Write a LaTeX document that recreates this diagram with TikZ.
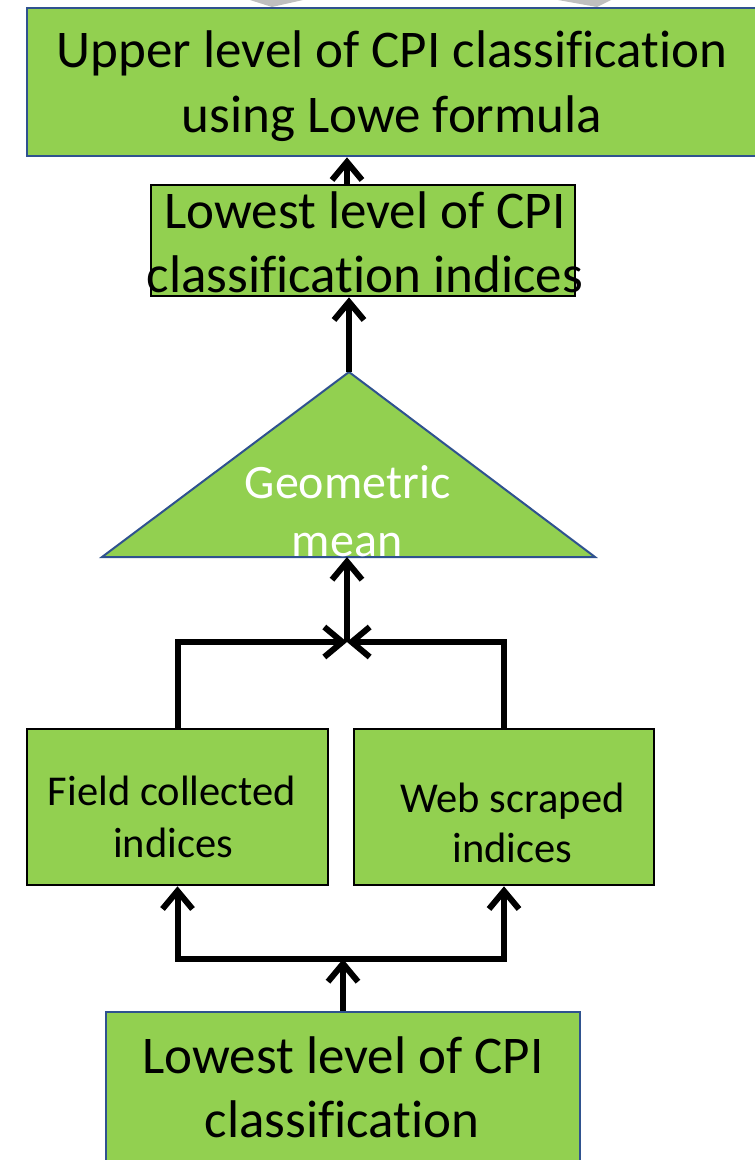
\documentclass[tikz,border=0pt]{standalone}
\usepackage{fontspec}
\setmainfont{Carlito}[Ligatures=CommonOff]
\usetikzlibrary{arrows.meta}
\definecolor{leaf}{RGB}{146,208,80}
\definecolor{edgeblue}{RGB}{47,82,143}
\definecolor{tipgray}{RGB}{191,191,191}
\tikzset{
  bluebox/.style={draw=edgeblue, line width=2.6pt, fill=leaf, inner sep=0pt},
  blackbox/.style={draw=black, line width=2.6pt, fill=leaf, inner sep=0pt},
  line/.style={anchor=base, inner sep=0pt},
  barb/.tip={Straight Barb[length=18pt,width=30pt,line width=6pt]},
  conn/.style={line width=6pt, -barb},
  twoway/.style={line width=6pt, barb-barb},
}
\begin{document}
\begin{tikzpicture}[x=1pt, y=-1pt]
\useasboundingbox (0,0) rectangle (755,1160);

% tips of the arrows from the level above
\fill[tipgray] (250,0) -- (303,0) -- (272,7) -- cycle;
\fill[tipgray] (558,0) -- (611,0) -- (597,7) -- cycle;

% boxes
\node[bluebox, minimum width=743pt, minimum height=148pt] (b1) at (398.5,82) {};
\node[blackbox, minimum width=424pt, minimum height=111pt] (b2) at (363,240.5) {};
\node[blackbox, minimum width=301pt, minimum height=156pt] (b3) at (177.5,807) {};
\node[blackbox, minimum width=300pt, minimum height=156pt] (b4) at (504,807) {};
\node[bluebox, minimum width=474pt, minimum height=170pt] (b5) at (343,1097) {};

% geometric mean triangle
\coordinate (gmtop) at (349,372);
\coordinate (gmbase) at (347,557);
\draw[draw=edgeblue, line width=2pt, fill=leaf, line join=miter]
  (gmtop) -- (595,557) -- (102,557) -- cycle;

% texts
\node[line, font=\fontsize{53}{60}\selectfont] (t1a) at (392,67) {Upper level of CPI classification};
\node[line, font=\fontsize{53}{60}\selectfont] (t1b) at (392,132) {using Lowe formula};
\node[line, font=\fontsize{53}{60}\selectfont] (t2a) at (365,228) {Lowest level of CPI};
\node[line, font=\fontsize{53}{60}\selectfont] (t2b) at (365,292) {classification indices};
\node[line, font=\fontsize{48}{56}\selectfont, text=white] (tga) at (347.5,498) {Geometric};
\node[line, font=\fontsize{48}{56}\selectfont, text=white] (tgb) at (347,556) {mean};
\node[line, font=\fontsize{42.5}{50}\selectfont] (t3a) at (172,805) {Field collected};
\node[line, font=\fontsize{42.5}{50}\selectfont] (t3b) at (173,857) {indices};
\node[line, font=\fontsize{42.5}{50}\selectfont] (t4a) at (512.5,812) {Web scraped};
\node[line, font=\fontsize{42.5}{50}\selectfont] (t4b) at (512.5,862) {indices};
\node[line, font=\fontsize{53}{60}\selectfont] (t5a) at (343,1073) {Lowest level of CPI};
\node[line, font=\fontsize{53}{60}\selectfont] (t5b) at (342,1137) {classification};

% junctions
\coordinate (jn) at (347,642);
\coordinate (bj) at (343,959);

% connectors
\draw[twoway] (b3.south) |- (bj) -| (b4.south);
\draw[conn] (b5.north) -- (bj);
\draw[conn] (b3.north) |- (jn);
\draw[conn] (b4.north) |- (jn);
\draw[conn] (jn) -- (gmbase);
\draw[conn] (gmtop) -- (gmtop |- b2.south);
\draw[conn] ([xshift=-16pt]b2.north) -- ([xshift=-16pt]b2.north |- b1.south);
\end{tikzpicture}
\end{document}
